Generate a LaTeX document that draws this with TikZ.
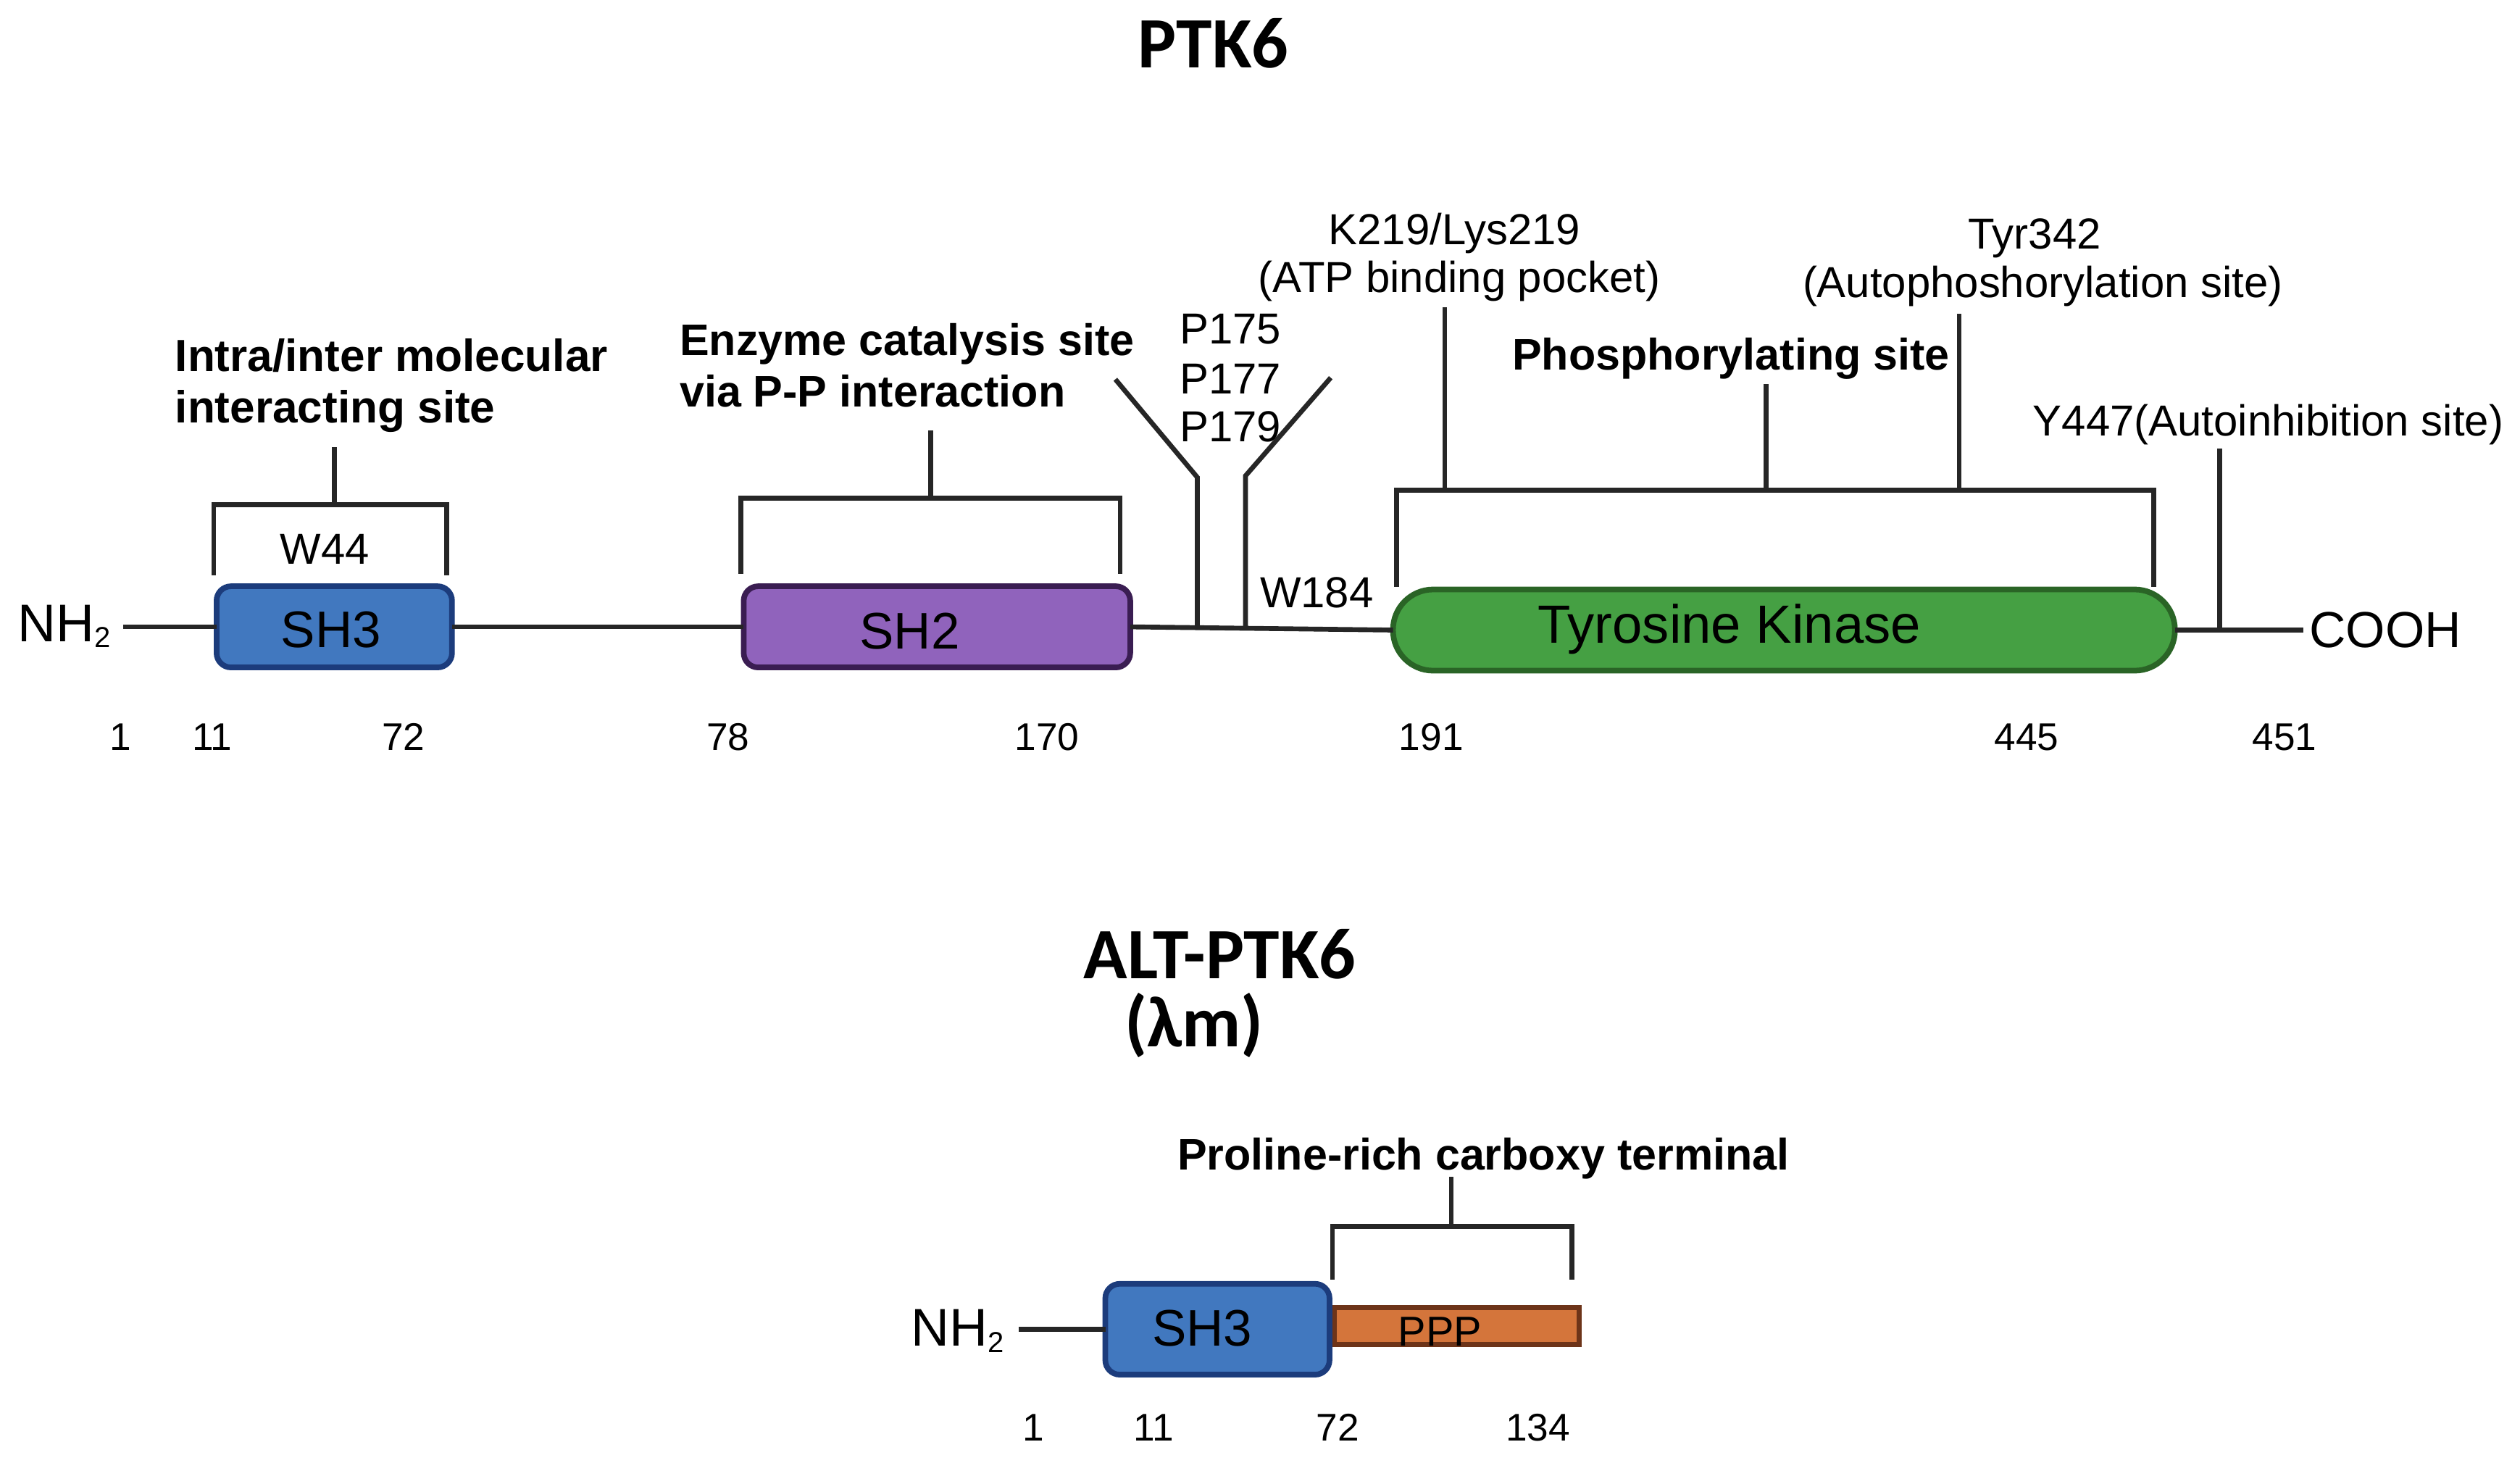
\documentclass[tikz,border=0pt]{standalone}
\usepackage{fontspec}
\setmainfont{Liberation Sans}
\newfontfamily\titlefont{Carlito}
\definecolor{linec}{HTML}{262626}
\definecolor{shfill}{HTML}{4178BF}
\definecolor{shdraw}{HTML}{1C3C7C}
\definecolor{shtwofill}{HTML}{9063BC}
\definecolor{shtwodraw}{HTML}{3A1D52}
\definecolor{tkfill}{HTML}{45A043}
\definecolor{tkdraw}{HTML}{2A6426}
\definecolor{pppfill}{HTML}{D4753B}
\definecolor{pppdraw}{HTML}{6D3419}
\begin{document}
\begin{tikzpicture}[x=1pt,y=-1pt,
  every node/.style={inner sep=0pt, outer sep=0pt},
  ttl/.style={font=\titlefont\bfseries\fontsize{45}{50}\selectfont, anchor=base},
  lbl/.style={font=\fontsize{27}{32}\selectfont, anchor=base},
  lblw/.style={font=\fontsize{27}{32}\selectfont, anchor=base west},
  bl/.style={font=\bfseries\fontsize{28}{32}\selectfont, anchor=base west},
  blc/.style={font=\bfseries\fontsize{27.5}{32}\selectfont, anchor=base},
  num/.style={font=\fontsize{24}{28}\selectfont, anchor=base},
  domtxt/.style={font=\fontsize{32}{36}\selectfont, anchor=base},
  endtxt/.style={font=\fontsize{33}{38}\selectfont, anchor=base west},
  dombox/.style={draw, line width=3.5pt, rounded corners=9pt},
  chain/.style={draw=linec, line width=3pt},
  brk/.style={draw=linec, line width=3pt, line join=miter},
  stem/.style={draw=linec, line width=3pt}]
\useasboundingbox (0,0) rectangle (1568,910);

% ---------- PTK6 ----------
\node[ttl] (ptk6) at (755,42) {PTK6};

% domains
\node[dombox, fill=shfill, draw=shdraw, minimum width=146.5pt, minimum height=50.5pt] (sh3) at (208,390) {};
\node[dombox, fill=shtwofill, draw=shtwodraw, minimum width=240.5pt, minimum height=50.5pt] (sh2) at (583,390) {};
\node[dombox, fill=tkfill, draw=tkdraw, rounded corners=25pt, minimum width=486.5pt, minimum height=50.5pt] (tk) at (1110,392) {};

\node[domtxt] (sh3t) at (206,403) {SH3};
\node[domtxt] (sh2t) at (566,403.5) {SH2};
\node[domtxt, font=\fontsize{33.5}{38}\selectfont] (tkt) at (1076,400) {Tyrosine Kinase};

\node[endtxt] (nh2) at (11,399) {NH\raisebox{-4pt}{\fontsize{18}{20}\selectfont 2}};
\node[endtxt, font=\fontsize{31.5}{36}\selectfont] (cooh) at (1437,403) {COOH};

% chain
\draw[chain] ([xshift=8pt]nh2.east |- sh3.west) -- (sh3.west);
\draw[chain] (sh3.east) -- (sh2.west);
\draw[chain] (sh2.east) -- (tk.west);
\draw[chain] (tk.east) -- ([xshift=-4pt]cooh.west |- tk.east);

% SH3 bracket
\coordinate (b1m) at (208,314);
\draw[brk] (133,358) |- (b1m) -| (278,358);
\node[bl] (intra1) at (109,231) {Intra/inter molecular};
\node[bl] (intra2) at (109,263) {interacting site};
\draw[stem] (b1m) -- (208,278);
\node[lbl] (w44) at (202,351) {W44};

% SH2 bracket
\coordinate (b2m) at (579,310);
\draw[brk] (461,357) |- (b2m) -| (697,357);
\draw[stem] (b2m) -- (579,268);
\node[bl, font=\bfseries\fontsize{27.5}{32}\selectfont] (enz1) at (423,221) {Enzyme catalysis site};
\node[bl, font=\bfseries\fontsize{27.5}{32}\selectfont] (enz2) at (423,253) {via P-P interaction};

% P175/P177/P179
\coordinate (pl0) at (694,236);
\coordinate (pl1) at (745,297);
\coordinate (pl2) at (745,390);
\coordinate (pr0) at (828,235);
\coordinate (pr1) at (775,296);
\coordinate (pr2) at (775,391);
\draw[stem] (pl0) -- (pl1) -- (pl2);
\draw[stem] (pr0) -- (pr1) -- (pr2);
\node[lblw] (p175) at (734,214) {P175};
\node[lblw] (p177) at (734,245) {P177};
\node[lblw] (p179) at (734,275) {P179};
\node[lblw] (w184) at (784,378) {W184};

% Kinase bracket
\coordinate (b3a) at (899,305);
\coordinate (b3b) at (1099,305);
\coordinate (b3c) at (1219,305);
\draw[brk] (869,365) |- (b3a) -| (1340,365);
\draw[stem] (b3a) -- (899,191);
\draw[stem] (b3b) -- (1099,239);
\draw[stem] (b3c) -- (1219,195);
\node[lbl] (k219) at (905,152) {K219/Lys219};
\node[lbl] (atp) at (908,182) {(ATP binding pocket)};
\node[blc] (phos) at (1077,230) {Phosphorylating site};
\node[lbl] (tyr) at (1266,155) {Tyr342};
\node[lbl] (auto) at (1271,185) {(Autophoshorylation site)};

% Y447
\coordinate (y447c) at (1381,392);
\draw[stem] (y447c) -- (1381,279);
\node[lblw] (y447) at (1265,271) {Y447(Autoinhibition site)};

% numbers
\node[num] (n1) at (75,467) {1};
\node[num] (n11) at (132,467) {11};
\node[num] (n72) at (251,467) {72};
\node[num] (n78) at (453,467) {78};
\node[num] (n170) at (651.5,467) {170};
\node[num] (n191) at (890.5,467) {191};
\node[num] (n445) at (1261,467) {445};
\node[num] (n451) at (1421.5,467) {451};

% ---------- ALT-PTK6 ----------
\node[ttl] (alt) at (759,609) {ALT-PTK6};
\node[ttl] (lam) at (743,651) {(λm)};

\node[draw=pppdraw, fill=pppfill, line width=3pt, minimum width=152pt, minimum height=23pt] (ppp) at (906.5,825) {};
\node[dombox, fill=shfill, draw=shdraw, minimum width=139.5pt, minimum height=56.5pt] (sh3b) at (757.5,827) {};
\node[domtxt] (sh3bt) at (748,837.5) {SH3};
\node[font=\fontsize{26}{31}\selectfont, anchor=base] (pppt) at (896,837.5) {PPP};

\node[endtxt] (nh2b) at (567,837.5) {NH\raisebox{-4pt}{\fontsize{18}{20}\selectfont 2}};
\draw[chain] ([xshift=9pt]nh2b.east |- sh3b.west) -- (sh3b.west);

\coordinate (b4m) at (903,763);
\draw[brk] (829,796) |- (b4m) -| (978,796);
\draw[stem] (b4m) -- (903,732);
\node[blc] (pro) at (923,728) {Proline-rich carboxy terminal};

\node[num] (m1) at (643,896.5) {1};
\node[num] (m11) at (718,896.5) {11};
\node[num] (m72) at (832.5,896.5) {72};
\node[num] (m134) at (957,896.5) {134};
\end{tikzpicture}
\end{document}
